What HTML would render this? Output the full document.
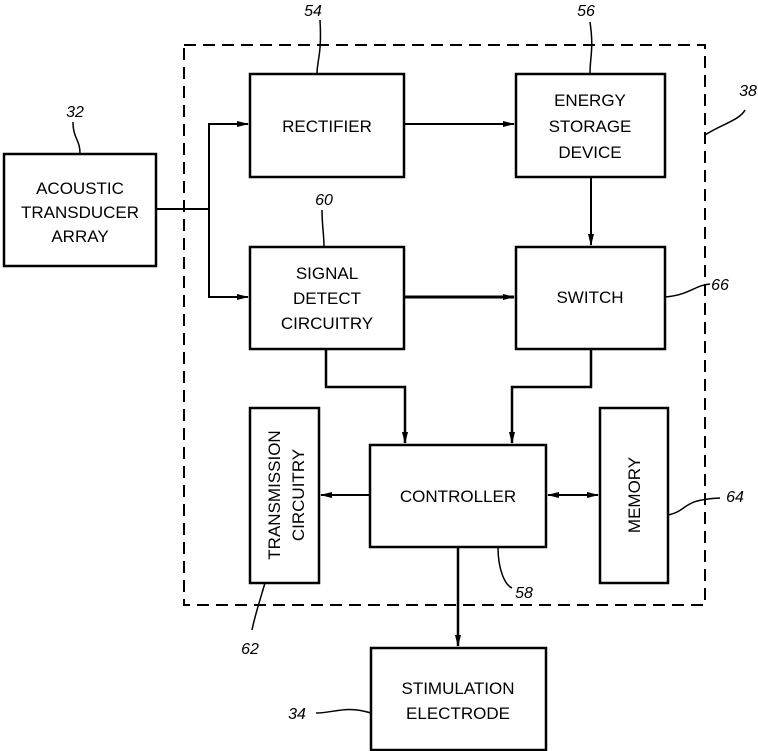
<!DOCTYPE html>
<html><head><meta charset="utf-8"><style>
html,body{margin:0;padding:0;background:#fff}
svg{display:block}
text{font-family:"Liberation Sans",Arial,sans-serif;font-size:17px;fill:#000}
.n{font-style:italic;font-size:16px}
</style></head><body>
<svg width="758" height="751" viewBox="0 0 758 751" xmlns="http://www.w3.org/2000/svg">
<defs><marker id="a" markerWidth="12" markerHeight="8" refX="11" refY="4" orient="auto" markerUnits="userSpaceOnUse"><path d="M0,1 L12,4 L0,7 Z" fill="#000"/></marker>
<marker id="b" markerWidth="12" markerHeight="8" refX="1" refY="4" orient="auto" markerUnits="userSpaceOnUse"><path d="M12,1 L0,4 L12,7 Z" fill="#000"/></marker></defs>
<g fill="none" stroke="#000" stroke-width="2.5">
<rect x="184" y="45" width="521" height="560" stroke-dasharray="12,7" stroke-width="2"/>
<rect x="4" y="154" width="152" height="112"/>
<rect x="250" y="74" width="154" height="103"/>
<rect x="516" y="74" width="149" height="103"/>
<rect x="250" y="247" width="154" height="102"/>
<rect x="516" y="247" width="149" height="102"/>
<rect x="250" y="408" width="69" height="175"/>
<rect x="370" y="445" width="176" height="102"/>
<rect x="600" y="408" width="68" height="175"/>
<rect x="371" y="648" width="175" height="102"/>
</g>
<g fill="none" stroke="#000" stroke-width="2">
<path d="M156,209 H209 V124 H248" marker-end="url(#a)"/>
<path d="M209,209 V297 H248" marker-end="url(#a)"/>
<path d="M404,124 H514" marker-end="url(#a)"/>
<path d="M404,297 H514" stroke-width="3" marker-end="url(#a)"/>
<path d="M591,177 V245" marker-end="url(#a)"/>
<path d="M326,349 V387 H405 V443" stroke-width="2.5" marker-end="url(#a)"/>
<path d="M591,349 V387 H512 V443" stroke-width="2.5" marker-end="url(#a)"/>
<path d="M370,495 H321" marker-end="url(#a)"/>
<path d="M548,495 H598" marker-start="url(#b)" marker-end="url(#a)"/>
<path d="M458,547 V646" stroke-width="2.5" marker-end="url(#a)"/>
<path d="M73,122 C73,138 80,140 80,153" stroke-width="1.5"/>
<path d="M317,74 C317,60 322,55 320,20" stroke-width="1.5"/>
<path d="M590,74 C590,55 594,50 590,22" stroke-width="1.5"/>
<path d="M705,135 C720,125 740,120 745,110" stroke-width="1.5"/>
<path d="M324,247 C324,235 322,225 322,210" stroke-width="1.5"/>
<path d="M665,297 C690,295 695,285 710,284" stroke-width="1.5"/>
<path d="M668,515 C690,510 680,500 720,498" stroke-width="1.5"/>
<path d="M498,547 C498,570 505,585 512,588" stroke-width="1.5"/>
<path d="M265,583 C260,600 255,615 252,630" stroke-width="1.5"/>
<path d="M316,713 C335,713 345,705 371,713" stroke-width="1.5"/>
</g>
<g text-anchor="middle">
<text x="80" y="194">ACOUSTIC</text><text x="80" y="218">TRANSDUCER</text><text x="80" y="242">ARRAY</text>
<text x="327" y="132">RECTIFIER</text>
<text x="590" y="106">ENERGY</text><text x="590" y="132">STORAGE</text><text x="590" y="158">DEVICE</text>
<text x="327" y="279">SIGNAL</text><text x="327" y="304">DETECT</text><text x="327" y="329">CIRCUITRY</text>
<text x="590" y="303">SWITCH</text>
<text x="458" y="502">CONTROLLER</text>
<text x="458" y="694">STIMULATION</text><text x="458" y="719">ELECTRODE</text>
<text transform="translate(284,495) rotate(-90)" x="0" y="-4">TRANSMISSION</text>
<text transform="translate(284,495) rotate(-90)" x="0" y="20">CIRCUITRY</text>
<text transform="translate(634,495) rotate(-90)" x="0" y="6">MEMORY</text>
<text class="n" x="75" y="117">32</text>
<text class="n" x="313" y="16">54</text>
<text class="n" x="586" y="16">56</text>
<text class="n" x="748" y="96">38</text>
<text class="n" x="324" y="205">60</text>
<text class="n" x="720" y="290">66</text>
<text class="n" x="735" y="502">64</text>
<text class="n" x="524" y="598">58</text>
<text class="n" x="250" y="654">62</text>
<text class="n" x="297" y="719">34</text>
</g>
</svg>
</body></html>
